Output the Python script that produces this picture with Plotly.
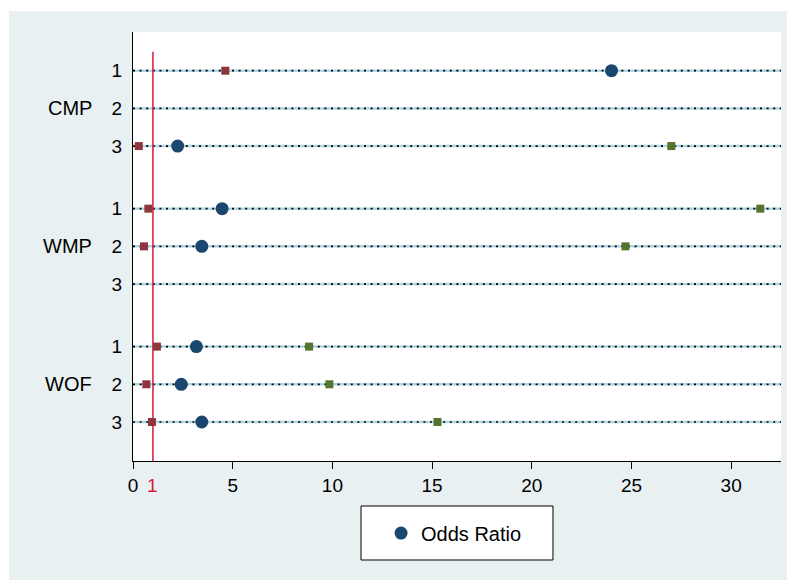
import plotly.graph_objects as go

# Odds ratios with 95% confidence limits, three levels per outcome group
groups = ["CMP", "WMP", "WOF"]
levels = ["1", "2", "3"]
odds_ratio = [24.0, None, 2.24, 4.47, 3.45, None, 3.18, 2.42, 3.45]
ci_lower = [4.63, None, 0.29, 0.77, 0.55, None, 1.20, 0.67, 0.95]
ci_upper = [None, None, 27.0, 31.46, 24.7, None, 8.83, 9.85, 15.27]
x_ticks = [0, 5, 10, 15, 20, 25, 30]
reference_value = 1

# Row positions: one unit between levels, an extra gap between groups
GROUP_GAP = 0.66
row_pos = []
for g in range(len(groups)):
    for k in range(len(levels)):
        row_pos.append(1 + g * (len(levels) + GROUP_GAP) + k)
tick_text = levels * len(groups)

Y_TOP = -0.027
Y_BOTTOM = row_pos[-1] + 1.035
X_MAX = 32.5

NAVY = "#1a476f"
MAROON = "#90353b"
FOREST = "#55752f"
RED = "#d41a3e"
BG = "#e9f0f2"
FONT = "Liberation Sans, Arial, sans-serif"

fig = go.Figure()

fig.add_trace(go.Scatter(
    x=ci_lower, y=row_pos, mode="markers", showlegend=False,
    marker=dict(symbol="square", size=8, color=MAROON, line=dict(width=0)),
    hoverinfo="x"))
fig.add_trace(go.Scatter(
    x=ci_upper, y=row_pos, mode="markers", showlegend=False,
    marker=dict(symbol="square", size=8, color=FOREST, line=dict(width=0)),
    hoverinfo="x"))
fig.add_trace(go.Scatter(
    x=odds_ratio, y=row_pos, mode="markers", name="Odds Ratio",
    marker=dict(symbol="circle", size=13, color=NAVY, line=dict(width=0)),
    hoverinfo="x"))

shapes = []
# Row guide lines: pale blue band with a black dotted line on top
for y in row_pos:
    shapes.append(dict(type="line", xref="x domain", yref="y", x0=0, x1=1,
                       y0=y, y1=y, layer="below",
                       line=dict(color="#aed6e3", width=2.5)))
    shapes.append(dict(type="line", xref="x domain", yref="y", x0=0, x1=1,
                       y0=y, y1=y, layer="below",
                       line=dict(color="black", width=1.7, dash="2px,4.6px")))
# Reference line at OR = 1
shapes.append(dict(type="line", xref="x", yref="y", x0=reference_value,
                   x1=reference_value, y0=0.5, y1=Y_BOTTOM, layer="below",
                   line=dict(color=RED, width=1.5)))
# Legend frame
shapes.append(dict(type="rect", xref="paper", yref="paper",
                   x0=0.3519, x1=0.6481, y0=-0.2308, y1=-0.1049,
                   fillcolor="white", line=dict(color="black", width=1),
                   layer="below"))
# White margin strips along the top and left edges of the page
shapes.append(dict(type="rect", xref="paper", yref="paper",
                   x0=-0.21, x1=1.02, y0=1.049, y1=1.08,
                   fillcolor="white", line=dict(width=0), layer="above"))
shapes.append(dict(type="rect", xref="paper", yref="paper",
                   x0=-0.21, x1=-0.1914, y0=-0.3, y1=1.08,
                   fillcolor="white", line=dict(width=0), layer="above"))

annotations = []
for g, name in enumerate(groups):
    annotations.append(dict(
        x=-0.0595, xref="paper", y=row_pos[g * 3 + 1], yref="y",
        text=name, showarrow=False, xanchor="right", yanchor="middle",
        font=dict(family=FONT, size=20, color="black")))
annotations.append(dict(
    x=reference_value, xref="x", y=-0.056, yref="paper",
    text=str(reference_value), showarrow=False, xanchor="center",
    yanchor="middle", font=dict(family=FONT, size=19, color=RED)))

fig.update_layout(
    width=787, height=580,
    margin=dict(l=133, r=6, t=32, b=119),
    paper_bgcolor=BG, plot_bgcolor="white",
    font=dict(family=FONT, size=19, color="black"),
    shapes=shapes, annotations=annotations,
    showlegend=True,
    legend=dict(x=0.3828, y=-0.1049 - 0.063, xanchor="left", yanchor="middle",
                bgcolor="rgba(0,0,0,0)", borderwidth=0,
                font=dict(family=FONT, size=20, color="black")),
    xaxis=dict(range=[0, X_MAX], tickvals=x_ticks, ticks="outside",
               ticklen=7, tickcolor="black", showgrid=False, zeroline=False,
               showline=True, linecolor="black", linewidth=1,
               tickfont=dict(size=19)),
    yaxis=dict(range=[Y_BOTTOM, Y_TOP], tickvals=row_pos, ticktext=tick_text,
               ticks="", showgrid=False, zeroline=False, showline=True,
               linecolor="black", linewidth=1, ticklabelstandoff=6,
               tickfont=dict(size=19)),
)

fig.write_html("out.html")
